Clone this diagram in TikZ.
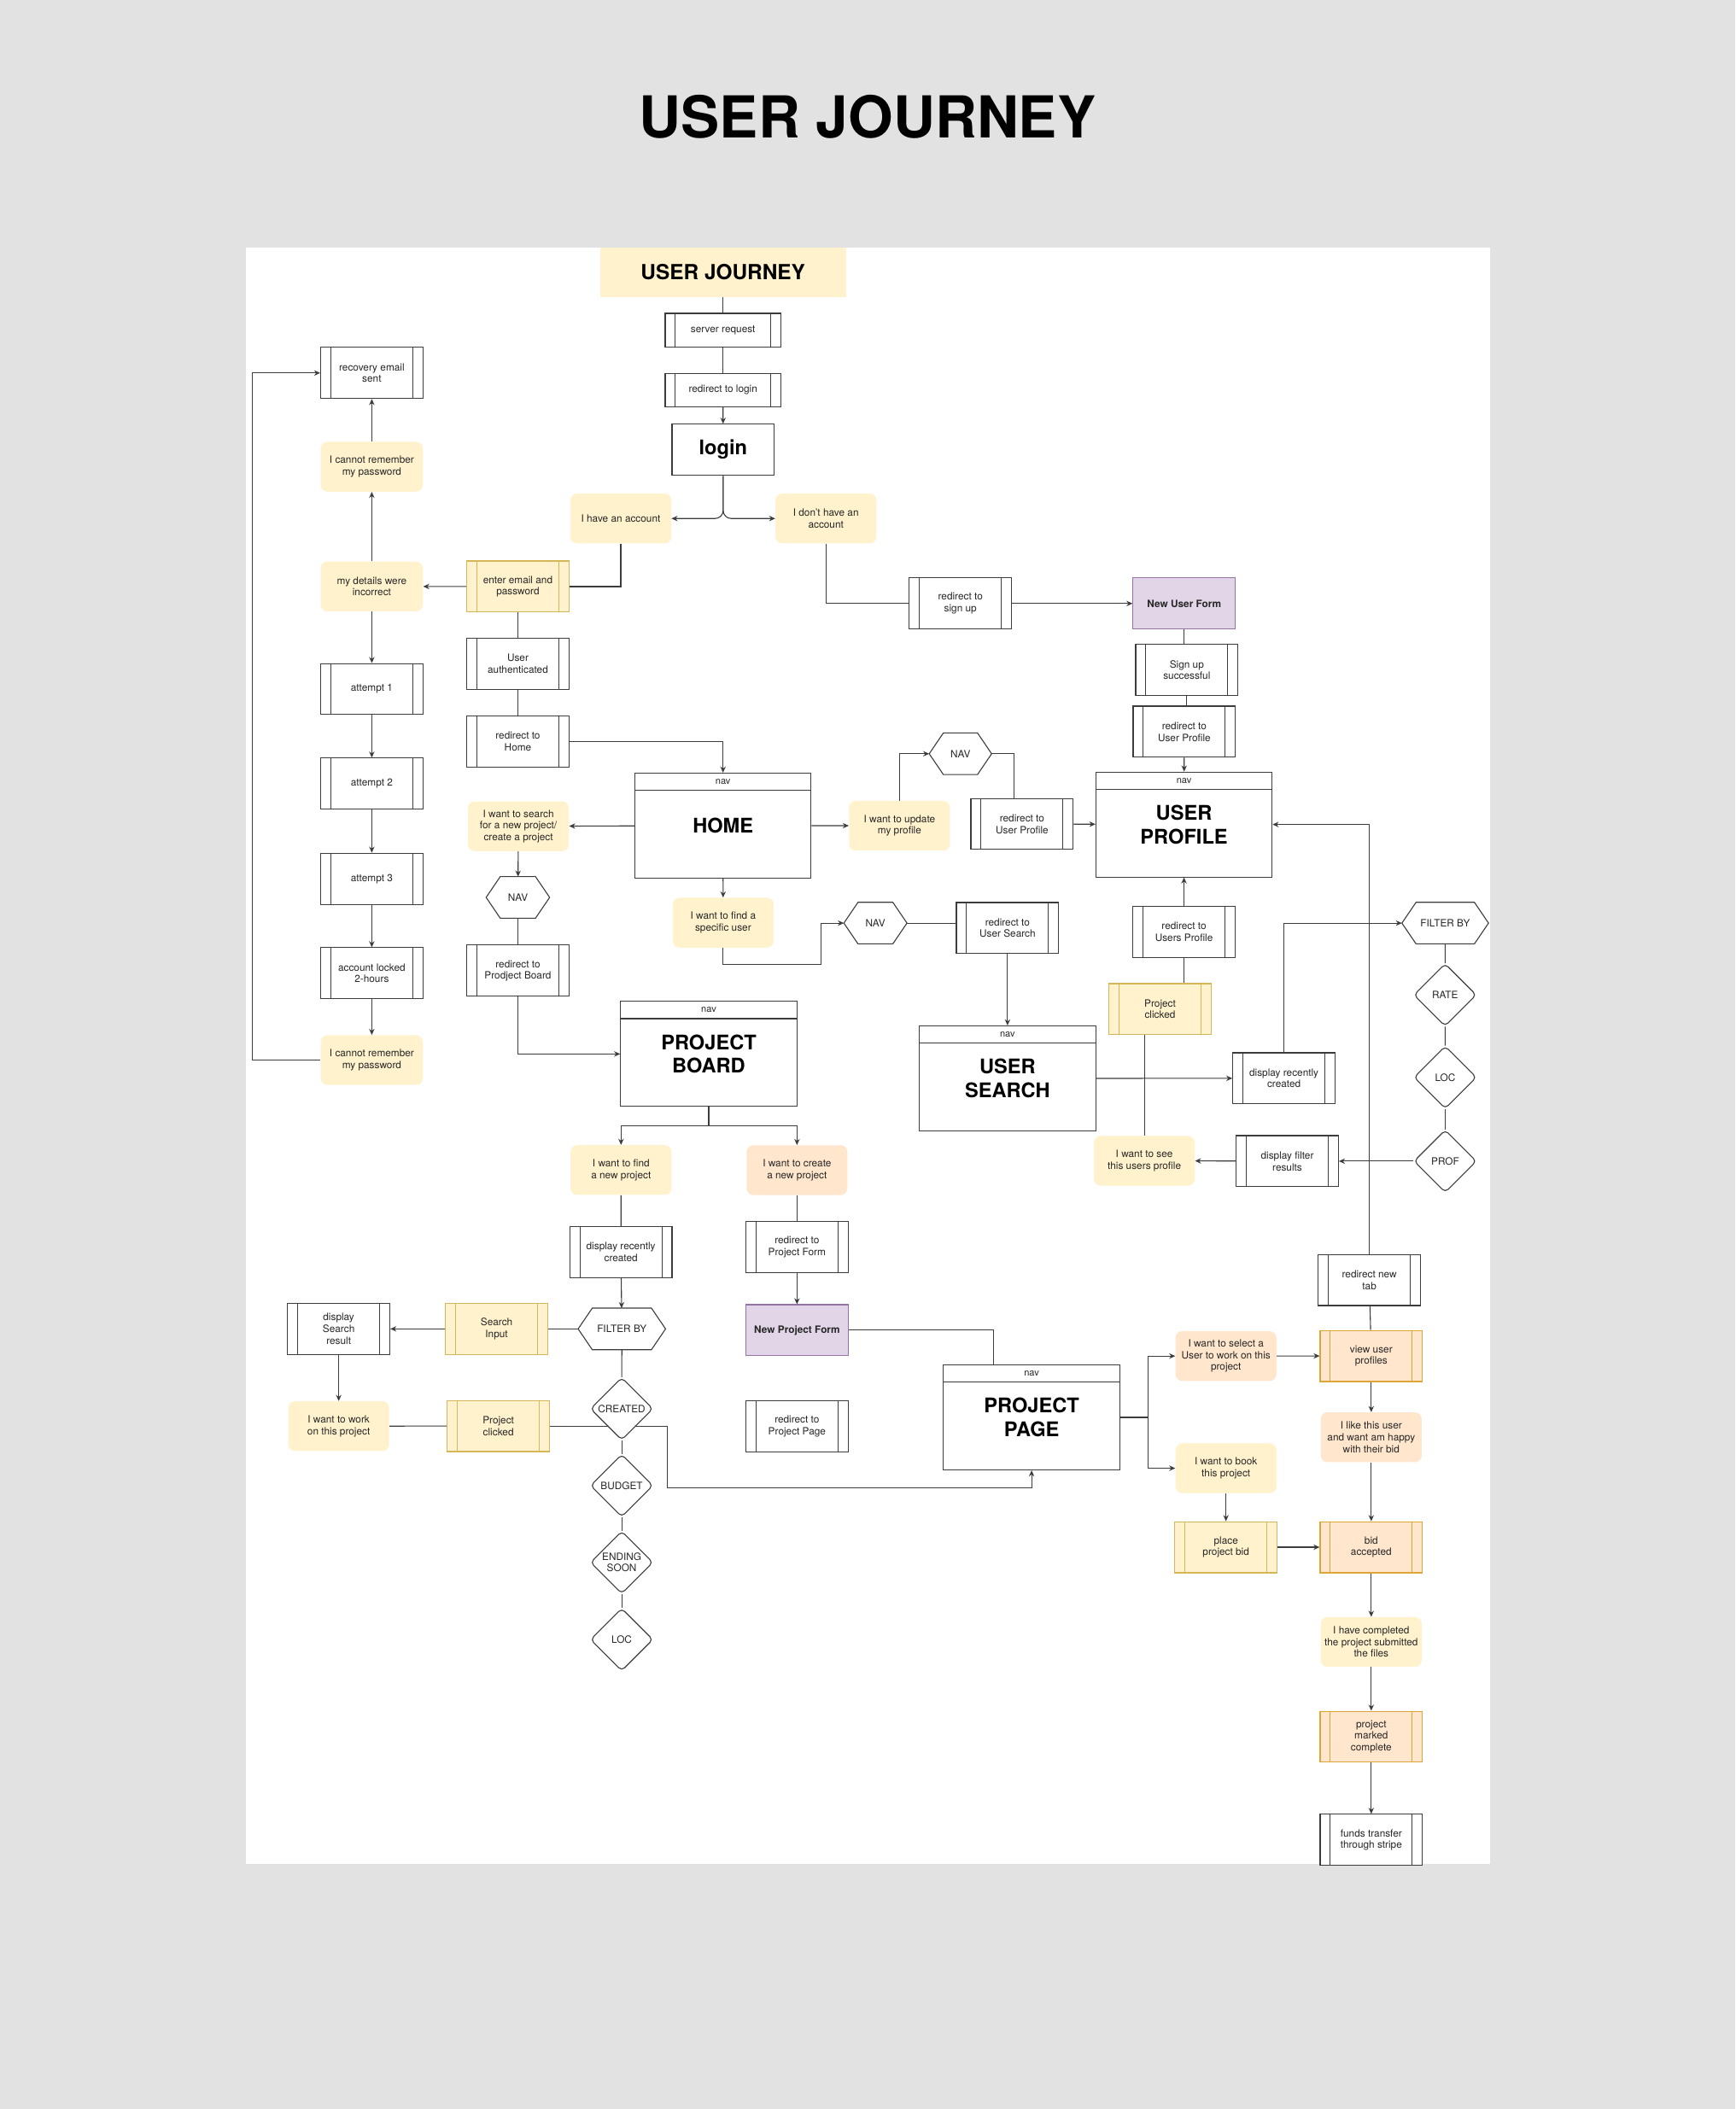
\documentclass[tikz,border=0pt]{standalone}
\usepackage{fontspec}
\setmainfont{TeX Gyre Heros}
\usetikzlibrary{shapes.geometric,arrows.meta,positioning}
\definecolor{pagegray}{RGB}{226,226,226}
\definecolor{linegray}{RGB}{60,60,60}
\definecolor{storyfill}{RGB}{255,242,204}
\definecolor{storyline}{RGB}{214,182,86}
\definecolor{peachfill}{RGB}{255,230,204}
\definecolor{peachline}{RGB}{224,165,55}
\definecolor{formfill}{RGB}{225,213,231}
\definecolor{formline}{RGB}{150,115,166}
\tikzset{
  base/.style   ={align=center, inner sep=1pt, text=black!85,
                  font=\fontsize{7.5}{8.7}\selectfont},
  story/.style  ={base, rectangle, rounded corners=5pt, fill=storyfill,
                  minimum width=75pt, minimum height=37pt},
  pstory/.style ={story, fill=peachfill},
  predef/.style 2 args={base, rectangle, fill=#1, draw=#2, line width=0.7pt,
                  minimum width=76pt, minimum height=38pt,
                  path picture={\draw[#2, line width=0.7pt]
                    ([xshift=7.5pt]path picture bounding box.north west) -- ([xshift=7.5pt]path picture bounding box.south west)
                    ([xshift=-7.5pt]path picture bounding box.north east) -- ([xshift=-7.5pt]path picture bounding box.south east);}},
  proc/.style   ={predef={white}{linegray}},
  yproc/.style  ={predef={storyfill}{storyline}},
  oproc/.style  ={predef={peachfill}{peachline}},
  form/.style   ={base, rectangle, fill=formfill, draw=formline, line width=0.7pt,
                  minimum width=76pt, minimum height=38pt,
                  font=\fontsize{7.5}{8.7}\selectfont\bfseries},
  page/.style   ={rectangle, draw=linegray, line width=0.7pt, fill=white, align=center,
                  minimum width=131pt, minimum height=78pt,
                  font=\fontsize{15}{17.5}\selectfont\bfseries, label={[navbar]north:nav}},
  navbar/.style ={draw=linegray, line width=0.7pt, minimum width=131pt, minimum height=12.7pt,
                  inner sep=0pt, anchor=north, text=black!85, font=\fontsize{7}{8}\selectfont},
  hexa/.style   ={base, rectangle, minimum height=30.5pt, inner sep=0pt},
  opt/.style    ={base, diamond, draw=linegray, line width=0.7pt, rounded corners=3pt, fill=white,
                  minimum width=46.5pt, minimum height=46.5pt, inner sep=0pt},
  flow/.style   ={-{Stealth[length=4.5pt,width=4pt]}, draw=linegray, line width=0.7pt},
  link/.style   ={draw=linegray, line width=0.7pt}
}
\begin{document}
\begin{tikzpicture}[x=1pt, y=-1pt]
\useasboundingbox (0,0) rectangle (1290,1568);
\fill[pagegray] (0,0) rectangle (1290,1568);
\fill[white] (183,184) rectangle (1108,1385.5);
\node[font=\fontsize{43}{50}\selectfont\bfseries] (title) at (645,87) {USER JOURNEY};

\node[rectangle, fill=storyfill, minimum width=183pt, minimum height=37pt,
      font=\fontsize{15.5}{18}\selectfont\bfseries] (uj) at (537.5,202.5) {USER JOURNEY};
\node[proc, minimum width=86pt, minimum height=25pt] (srv) at (537.5,245.5) {server request};
\node[proc, minimum width=86pt, minimum height=25pt] (rlog) at (537.5,290) {redirect to login};
\node[rectangle, draw=linegray, line width=0.7pt, minimum width=76pt, minimum height=38pt,
      font=\fontsize{15}{17.5}\selectfont\bfseries] (login) at (537.6,334.4) {login};
\node[story] (have) at (461.5,385.5) {I have an account};
\node[story] (donthave) at (614,385.5) {I don't have an\\account};
\node[proc] (rsu) at (714,448.7) {redirect to\\sign up};
\node[form] (nuf) at (880.3,448.7) {New User Form};
\node[proc, below=10.8pt of nuf, xshift=2pt] (sus) {Sign up\\successful};
\node[proc] (rup2) at (880.4,544) {redirect to\\User Profile};
\node[page] (prof) at (880.2,613) {USER\\PROFILE};

\node[proc] (recov) at (276.4,277.3) {recovery email\\sent};
\node[story, minimum width=76pt] (forgot1) at (276.4,347) {I cannot remember\\my password};
\node[story, minimum width=76pt] (details) at (276.4,436) {my details were\\incorrect};
\node[yproc] (enter) at (385,436.1) {enter email and\\password};
\node[proc, below=18.8pt of enter] (auth) {User\\authenticated};
\node[proc, below=19pt of auth] (rhome) {redirect to\\Home};
\node[proc] (att1) at (276.4,512.3) {attempt 1};
\node[proc, below=31.6pt of att1] (att2) {attempt 2};
\node[proc, below=32pt of att2] (att3) {attempt 3};
\node[proc, below=31.6pt of att3] (locked) {account locked\\2-hours};
\node[story, minimum width=76pt, below=26.5pt of locked] (forgot2) {I cannot remember\\my password};

\node[page] (home) at (537.5,613.8) {HOME};
\node[story] (search) at (385.4,614.3) {I want to search\\for a new project/\\create a project};
\node[hexa, minimum width=46.8pt] (navl) at (385,667.2) {NAV};
\node[proc] (rpb) at (385,721.7) {redirect to\\Prodject Board};
\node[page] (pb) at (526.9,783.6) {PROJECT\\BOARD};
\node[story] (upd) at (668.7,613.9) {I want to update\\my profile};
\node[hexa, minimum width=46pt] (navu) at (714,560.4) {NAV};
\node[proc] (rup) at (759.8,612.6) {redirect to\\User Profile};
\node[story] (finduser) at (537.6,686) {I want to find a\\specific user};
\node[hexa, minimum width=46.5pt] (navm) at (650.8,686.3) {NAV};
\node[proc] (rus) at (749,690) {redirect to\\User Search};
\node[page] (us) at (749,801.75) {USER\\SEARCH};

\node[proc] (drc) at (954.5,801.7) {display recently\\created};
\node[hexa, minimum width=64pt] (fltr) at (1074.4,686.3) {FILTER BY};
\node[opt] (rate) at (1074.3,739.7) {RATE};
\node[opt] (locr) at (1074.4,801) {LOC};
\node[opt] (prof2) at (1074.4,863.3) {PROF};
\node[proc] (dfr) at (957,863.3) {display filter\\results};
\node[story] (seeuser) at (850.7,863) {I want to see\\this users profile};
\node[yproc] (pclk) at (862.4,750.3) {Project\\clicked};
\node[proc] (rusp) at (880.2,692.7) {redirect to\\Users Profile};
\node[proc] (newtab) at (1018,951.6) {redirect new\\tab};

\node[story] (findp) at (461.7,869.9) {I want to find\\a new project};
\node[pstory] (createp) at (592.5,870) {I want to create\\a new project};
\node[proc] (drcl) at (461.6,931) {display recently\\created};
\node[hexa, minimum width=64.6pt] (fltl) at (462.3,988) {FILTER BY};
\node[yproc] (sinp) at (369.2,988) {Search\\Input};
\node[proc] (dsr) at (251.8,988) {display\\Search\\result};
\node[story] (work) at (251.8,1060.3) {I want to work\\on this project};
\node[yproc] (pclkl) at (370.5,1060.2) {Project\\clicked};
\node[proc] (rpf) at (592.5,927) {redirect to\\Project Form};
\node[form] (npf) at (592.5,989) {New Project Form};
\node[proc] (rpp) at (592.5,1060.3) {redirect to\\Project Page};
\node[page] (pp) at (766.9,1053.8) {PROJECT\\PAGE};

\node[pstory] (sel) at (911.4,1008.2) {I want to select a\\User to work on this\\project};
\node[oproc] (view) at (1019.4,1008.1) {view user\\profiles};
\node[pstory, below=22.4pt of view] (like) {I like this user\\and want am happy\\with their bid};
\node[story] (book) at (911.4,1091.6) {I want to book\\this project};
\node[yproc] (place) at (911.4,1150.3) {place\\project bid};
\node[oproc] (bid) at (1019.4,1150.3) {bid\\accepted};
\node[story, below=32.4pt of bid] (done) {I have completed\\the project submitted\\the files};
\node[oproc, below=32.4pt of done] (marked) {project\\marked\\complete};
\node[proc, below=38pt of marked] (funds) {funds transfer\\through stripe};

\draw[flow] (pclkl.east) -- ++(87.3,0) |- ([yshift=-12.8pt]pp.south) -- (pp.south);
\node[opt] (created) at (462.2,1047.4) {CREATED};
\node[opt] (budget) at (462.2,1104.5) {BUDGET};
\node[opt] (ending) at (462.2,1161.6) {ENDING\\SOON};
\node[opt] (locl) at (462.2,1219) {LOC};

\foreach \h in {navl,navu,navm,fltl,fltr}
  \draw[link] (\h.west) -- ([xshift=10.5pt]\h.north west) -- ([xshift=-10.5pt]\h.north east)
    -- (\h.east) -- ([xshift=-10.5pt]\h.south east) -- ([xshift=10.5pt]\h.south west) -- cycle;

\draw[link] (uj) -- (srv);
\draw[link] (srv) -- (rlog);
\draw[flow] (rlog) -- (login);
\draw[flow, rounded corners=6pt] (login.south) |- (have.east);
\draw[flow, rounded corners=6pt] (login.south) |- (donthave.west);
\draw[link] (donthave.south) |- (rsu.west);
\draw[flow] (rsu) -- (nuf);
\draw[link] (nuf.south) -- (nuf.south |- sus.north);
\draw[link] (sus.south) -- (sus.south |- rup2.north);
\draw[flow] (rup2) -- (prof);

\draw[link] (have.south) |- (enter.east);
\draw[flow] (enter) -- (details);
\draw[flow] (details) -- (forgot1);
\draw[flow] (forgot1) -- (recov);
\draw[flow] (details) -- (att1);
\draw[flow] (att1) -- (att2);
\draw[flow] (att2) -- (att3);
\draw[flow] (att3) -- (locked);
\draw[flow] (locked) -- (forgot2);
\draw[flow] (forgot2.west) -- ++(-50.8,0) |- (recov.west);
\draw[link] (enter) -- (auth);
\draw[link] (auth) -- (rhome);
\draw[flow] (rhome.east) -| (home.north);

\draw[flow] (home) -- (search);
\draw[flow] (search) -- (navl);
\draw[link] (navl) -- (rpb);
\draw[flow] (rpb.south) |- (pb.west);
\draw[flow] (home) -- (upd);
\draw[flow] (upd.north) |- (navu.west);
\draw[link] (navu.east) -| ([xshift=-6pt]rup.north);
\draw[flow] (rup) -- (prof);
\draw[flow] (home) -- (finduser);
\draw[flow] (finduser.south) -- ++(0,12.2) -| ([xshift=-17pt]navm.west) -- (navm.west);
\draw[link] (navm.east) -- (navm.east -| rus.west);
\draw[flow] (rus) -- (us);

\draw[flow] (us.east) -- (drc.west);
\draw[flow] (drc.north) |- (fltr.west);
\draw[link] (fltr) -- (rate);
\draw[link] (rate) -- (locr);
\draw[link] (locr) -- (prof2);
\draw[flow] (prof2) -- (dfr);
\draw[flow] (dfr) -- (seeuser);
\draw[link] (seeuser.north) -- (seeuser.north |- pclk.south);
\draw[link] (rusp.south) -- (rusp.south |- pclk.north);
\draw[flow] (rusp) -- (prof);
\draw[flow] (newtab.north) |- (prof.east);
\draw[link] (newtab) -- (view);

\draw[flow] (pb.south) -- ++(0,14) -| (findp.north);
\draw[flow] (pb.south) -- ++(0,14) -| (createp.north);
\draw[link] (findp) -- (drcl);
\draw[flow] (drcl) -- (fltl);
\draw[link] (fltl) -- (sinp);
\draw[flow] (sinp) -- (dsr);
\draw[flow] (dsr) -- (work);
\draw[link] (work) -- (pclkl);
\draw[link] (fltl) -- (created);
\draw[link] (created) -- (budget);
\draw[link] (budget) -- (ending);
\draw[link] (ending) -- (locl);
\draw[link] (createp) -- (rpf);
\draw[flow] (rpf) -- (npf);
\draw[link] (npf.east) -| ([xshift=-28.3pt]pp.north);

\draw[flow] (pp.east) -- ++(20.5,0) |- (sel.west);
\draw[flow] (pp.east) -- ++(20.5,0) |- (book.west);
\draw[flow] (sel) -- (view);
\draw[flow] (view) -- (like);
\draw[flow] (like) -- (bid);
\draw[flow] (book) -- (place);
\draw[flow] (place) -- (bid);
\draw[flow] (bid) -- (done);
\draw[flow] (done) -- (marked);
\draw[flow] (marked) -- (funds);
\end{tikzpicture}
\end{document}
